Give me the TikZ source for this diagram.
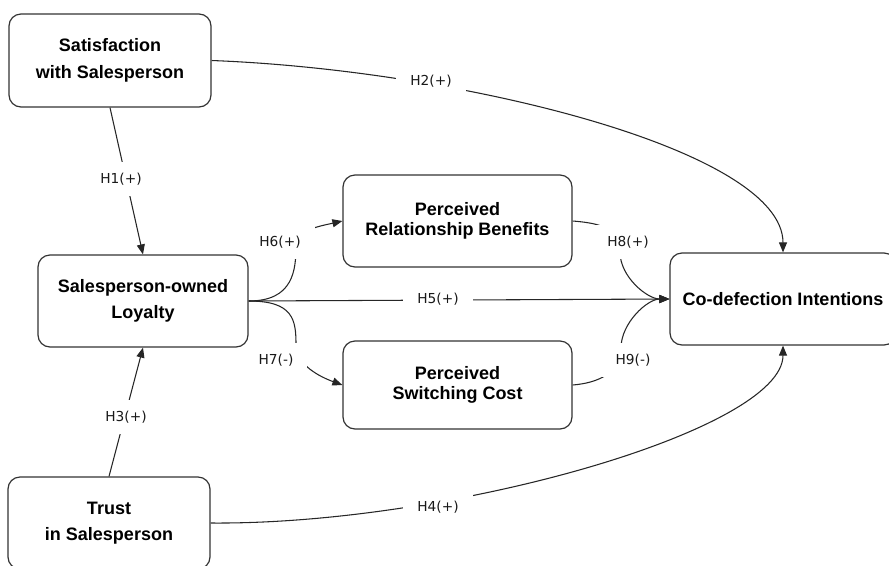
\documentclass[tikz,border=0pt]{standalone}
\usepackage{fontspec}
\setmainfont{Liberation Sans}
\newfontfamily\lblfont{DejaVu Sans}
\usetikzlibrary{arrows.meta}
\pgfdeclarelayer{edgelayer}
\pgfdeclarelayer{labellayer}
\pgfsetlayers{edgelayer,labellayer,main}
\begin{document}
\begin{tikzpicture}[x=0.75pt,y=-0.75pt,
  box/.style={draw=black!80, line width=0.9pt, rounded corners=9pt, fill=white, align=center,
    font=\fontsize{13.5}{20}\selectfont\bfseries, inner sep=0pt},
  tightbox/.style={box, font=\fontsize{13.5}{14.5}\selectfont\bfseries},
  edge/.style={draw=black!85, line width=0.8pt, -{Triangle[length=7.5pt,width=6pt]}},
  hlabel/.style={fill=white, font=\lblfont\fontsize{10.3}{12}\selectfont, text=black!90,
    inner xsep=10.5pt, inner ysep=8.5pt}
]
\useasboundingbox (0,0) rectangle (889,565);
\clip (0,0) rectangle (889,565);

% boxes
\node[box, minimum width=151.5pt, minimum height=69.75pt] (sat) at (110,60.5) {Satisfaction\\with Salesperson};
\node[box, minimum width=157.5pt, minimum height=69pt] (loy) at (143,301) {Salesperson-owned\\Loyalty};
\node[tightbox, minimum width=171.75pt, minimum height=69pt] (prb) at (457.5,221) {Perceived\\Relationship Benefits};
\node[tightbox, minimum width=171.75pt, minimum height=66pt] (psc) at (457.5,385) {Perceived\\Switching Cost};
\node[box, minimum width=169.5pt, minimum height=69pt] (cod) at (783,299) {Co-defection Intentions};
\node[box, minimum width=151.5pt, minimum height=69pt] (trust) at (109,523) {Trust\\in Salesperson};

% connectors
\begin{pgfonlayer}{edgelayer}
\draw[edge] (sat.south) -- (loy.north);
\draw[edge] (trust.north) -- (loy.south);
\draw[edge] (sat.east) .. controls (460,70) and (783,150) .. (cod.north);
\draw[edge] (trust.east) .. controls (450,525) and (783,430) .. (cod.south);
\draw[edge] (loy.east) -- (cod.west);
\draw[edge] (loy.east) .. controls +(45,0) and +(0,25) .. (296,245) .. controls +(0,-15) and +(-22,5) .. (prb.west);
\draw[edge] (loy.east) .. controls +(45,0) and +(0,-25) .. (296,345) .. controls +(0,20) and +(-22,-8) .. (psc.west);
\draw[edge] (prb.east) .. controls +(25,2) and +(0,-25) .. (620,252) .. controls +(0,25) and +(-22,0) .. (cod.west);
\draw[edge] (psc.east) .. controls +(25,-2) and +(0,25) .. (621,348) .. controls +(0,-25) and +(-22,0) .. (cod.west);
\end{pgfonlayer}

% labels
\begin{pgfonlayer}{labellayer}
\node[hlabel] (l1) at (121,179) {H1(+)};
\node[hlabel] (l2) at (431,81) {H2(+)};
\node[hlabel] (l3) at (126,417) {H3(+)};
\node[hlabel] (l4) at (438,507) {H4(+)};
\node[hlabel] (l5) at (438,299) {H5(+)};
\node[hlabel] (l6) at (280,242) {H6(+)};
\node[hlabel] (l7) at (276,360) {H7(-)};
\node[hlabel] (l8) at (628,242) {H8(+)};
\node[hlabel] (l9) at (633,360) {H9(-)};
\end{pgfonlayer}
\end{tikzpicture}
\end{document}
